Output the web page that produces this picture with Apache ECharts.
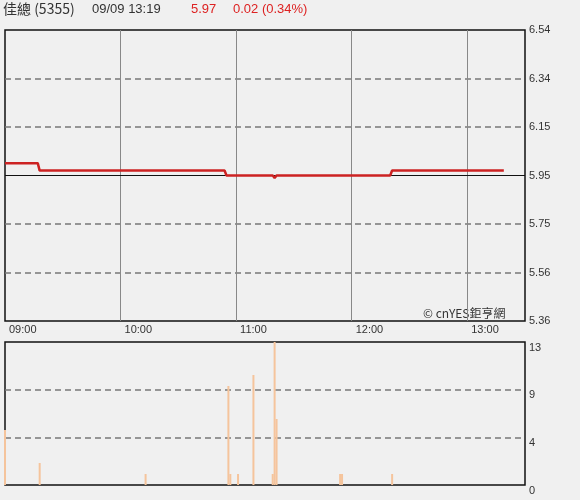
<!DOCTYPE html>
<html>
<head>
<meta charset="utf-8">
<script src="https://cdn.jsdelivr.net/npm/echarts@6/dist/echarts.min.js"></script>
<style>
  html, body { margin: 0; padding: 0; background: #f0f0f0; }
  #main { width: 580px; height: 500px; }
</style>
</head>
<body>
<div id="main"></div>
<script>
// price changes (minute stamps)
const priceTimes = ["09:00", "09:17", "09:18", "10:54", "10:55", "11:19", "11:20", "11:21", "12:20", "12:21", "13:19"];
const prices = [6.00, 6.00, 5.97, 5.97, 5.95, 5.95, 5.94, 5.95, 5.95, 5.97, 5.97];

// volume bars
const volTimes = ["09:00", "09:18", "10:13", "10:56", "10:57", "11:01", "11:09", "11:19", "11:20", "11:21", "11:54", "11:55", "12:21"];
const volumes = [5, 2, 1, 9, 1, 1, 10, 1, 13, 6, 1, 1, 1];

const priceTicks = [5.36, 5.5567, 5.7533, 5.95, 6.1467, 6.3433, 6.54];
const priceGrid = [5.5567, 5.7533, 6.1467, 6.3433];
const volTicks = [0, 13 / 3, 26 / 3, 13];
const volGrid = [13 / 3, 26 / 3];
const prevClose = 5.95;

function toMin(t) {
  const p = t.split(":");
  return (+p[0] - 9) * 60 + (+p[1]);
}
function minLabel(v) {
  if (v >= 270) return "";
  const h = 9 + Math.floor(v / 60), m = v % 60;
  return (h < 10 ? "0" + h : h) + ":" + (m < 10 ? "0" + m : m);
}

const font = "Liberation Sans, Arial, sans-serif";
let myChart = echarts.init(document.getElementById("main"));

const option = {
  backgroundColor: "#f0f0f0",
  animation: false,
  graphic: [
    { type: "text", left: 3, top: 2, style: { text: "佳總 (5355)", fill: "#333", font: "14px 'Noto Sans CJK TC', " + font } },
    { type: "text", left: 92, top: 3, style: { text: "09/09 13:19", fill: "#333", font: "13px " + font } },
    { type: "text", left: 191, top: 3, style: { text: "5.97", fill: "#d22", font: "13px " + font } },
    { type: "text", left: 233, top: 3, style: { text: "0.02 (0.34%)", fill: "#d22", font: "13px " + font } },
    { type: "text", left: 423, top: 307, style: { text: "© cnYES鉅亨網", fill: "#333", font: "12px 'Noto Sans CJK TC', " + font } }
  ],
  grid: [
    { left: 5, top: 30, width: 520, height: 291, show: true, borderColor: "#111", borderWidth: 1.5, backgroundColor: "transparent" },
    { left: 5, top: 342, width: 520, height: 143, show: true, borderColor: "#111", borderWidth: 1.5, backgroundColor: "transparent" }
  ],
  xAxis: [
    {
      type: "value", gridIndex: 0, min: 0, max: 270, interval: 60,
      axisLine: { show: false }, axisTick: { show: false },
      splitLine: { show: true, showMinLine: false, showMaxLine: false, lineStyle: { color: "#888", width: 1 } },
      axisLabel: {
        color: "#333", fontSize: 11, fontFamily: font, align: "left", margin: 3,
        padding: [0, 0, 0, 4], formatter: minLabel
      }
    },
    {
      type: "value", gridIndex: 1, min: 0, max: 270, interval: 60,
      axisLine: { show: false }, axisTick: { show: false },
      splitLine: { show: false }, axisLabel: { show: false }
    }
  ],
  yAxis: [
    {
      type: "value", gridIndex: 0, position: "right", min: 5.36, max: 6.54,
      axisLine: { show: false },
      axisTick: { show: false, customValues: priceGrid },
      splitLine: { show: true, lineStyle: { color: "#777", type: [6, 4], width: 1.5 } },
      axisLabel: {
        customValues: priceTicks, color: "#333", fontSize: 11, fontFamily: font, margin: 4,
        verticalAlign: "middle", padding: [0, 0, 6, 0],
        formatter: v => v.toFixed(2)
      }
    },
    {
      type: "value", gridIndex: 1, position: "right", min: 0, max: 13,
      axisLine: { show: false },
      axisTick: { show: false, customValues: volGrid },
      splitLine: { show: true, lineStyle: { color: "#777", type: [6, 4], width: 1.5 } },
      axisLabel: {
        customValues: volTicks, color: "#333", fontSize: 11, fontFamily: font, margin: 4,
        verticalAlign: "top", formatter: v => Math.round(v)
      }
    }
  ],
  series: [
    {
      type: "line", xAxisIndex: 0, yAxisIndex: 0,
      data: priceTimes.map((t, i) => [toMin(t), prices[i]]),
      showSymbol: false,
      lineStyle: { color: "#cc2222", width: 2.5 },
      markLine: {
        silent: true, symbol: "none", label: { show: false },
        lineStyle: { color: "#111", type: "solid", width: 1.2 },
        data: [{ yAxis: prevClose }]
      },
      z: 5
    },
    {
      type: "bar", xAxisIndex: 1, yAxisIndex: 1,
      data: volTimes.map((t, i) => [toMin(t), volumes[i]]),
      barWidth: 2,
      itemStyle: { color: "#f5c49c" }
    }
  ]
};

myChart.setOption(option);
</script>
</body>
</html>
